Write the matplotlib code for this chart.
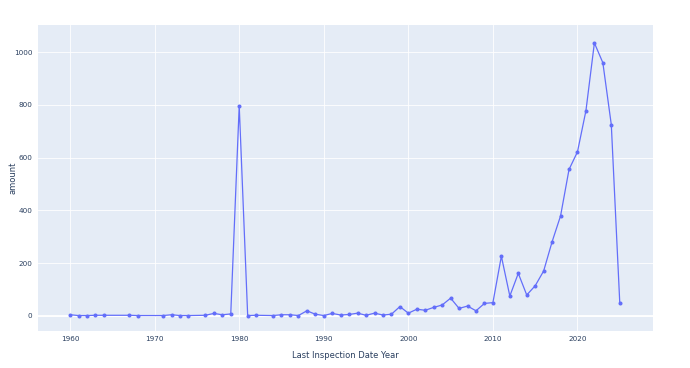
import matplotlib.pyplot as plt

# inspections per year
years = [1960, 1961, 1962, 1963, 1964, 1967, 1968, 1971, 1972, 1973, 1974,
         1976, 1977, 1978, 1979, 1980, 1981, 1982, 1984, 1985, 1986, 1987,
         1988, 1989, 1990, 1991, 1992, 1993, 1994, 1995, 1996, 1997, 1998,
         1999, 2000, 2001, 2002, 2003, 2004, 2005, 2006, 2007, 2008, 2009,
         2010, 2011, 2012, 2013, 2014, 2015, 2016, 2017, 2018, 2019, 2020,
         2021, 2022, 2023, 2024, 2025]
amount = [4, 1, 1, 2, 2, 2, 1, 1, 4, 1, 1,
          2, 9, 4, 7, 797, 1, 2, 1, 4, 4, 1,
          19, 6, 1, 9, 3, 5, 10, 2, 10, 3, 6,
          35, 10, 25, 21, 32, 41, 67, 28, 37, 19, 47,
          50, 226, 75, 161, 79, 114, 170, 281, 379, 555, 622,
          778, 1035, 960, 725, 50]

x_ticks = [1960, 1970, 1980, 1990, 2000, 2010, 2020]
y_ticks = [0, 200, 400, 600, 800, 1000]

fig = plt.figure(figsize=(6.9, 3.68), dpi=100)
ax = fig.add_axes([0.055, 0.101, 0.891, 0.831])
ax.set_facecolor('#E5ECF6')

ax.plot(years, amount, color='#636efa', linewidth=0.9, marker='o',
        markersize=1.9, zorder=3)

ax.set_xlim(1956.2, 2028.9)
ax.set_ylim(-57, 1103)
ax.set_xticks(x_ticks)
ax.set_yticks(y_ticks)
ax.grid(True, color='white', linewidth=0.6)
ax.axhline(0, color='white', linewidth=1.3, zorder=1)
ax.set_axisbelow(True)
for s in ax.spines.values():
    s.set_visible(False)
ax.tick_params(length=0, labelsize=5.2, labelcolor='#2a3f5f', pad=4)
ax.set_xlabel('Last Inspection Date Year', fontsize=6, color='#2a3f5f', labelpad=6)
ax.set_ylabel('amount', fontsize=6, color='#2a3f5f')
ax.yaxis.set_label_coords(-0.033, 0.5)

fig.savefig('out.png', dpi=100)
